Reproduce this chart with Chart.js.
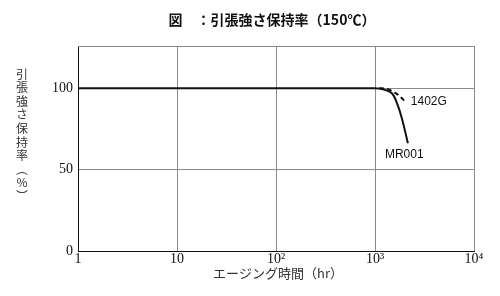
<!DOCTYPE html>
<html lang="ja">
<head>
<meta charset="UTF-8">
<title>引張強さ保持率</title>
<script src="https://cdn.jsdelivr.net/npm/chart.js"></script>
<style>
  html, body { margin: 0; padding: 0; background: #fff; }
  #wrap { width: 500px; height: 296px; }
</style>
</head>
<body>
<div id="wrap"><canvas id="myChart" width="500" height="296"></canvas></div>
<script>
// data
const xTicks = [1, 10, 100, 1000, 10000];
const xTickLabels = ['1', '10', '10²', '10³', '10⁴'];
const yTicks = [0, 50, 100];

const mrHours = [1, 1000, 1100, 1260, 1490, 1670, 1870, 2150];
const mrValues = [100, 100, 99.8, 99, 96.8, 90.7, 81.5, 66.2];

// dashed line only shows where it leaves the solid one
const gHours = [1100, 1300, 1520, 1750, 2000];
const gValues = [100, 99.7, 98, 95.5, 92];

const titleText = '図\u3000：引張強さ保持率（150℃）';
const yTitle = ['引', '張', '強', 'さ', '保', '持', '率', '︵', '%', '︶'];
const xTitle = 'エージング時間（hr）';

function pts(xs, ys) {
    return xs.map((x, i) => ({ x: x, y: ys[i] }));
}

const extras = {
    id: 'extras',
    afterDraw(chart) {
        const ctx = chart.ctx;
        const a = chart.chartArea;
        const xs = chart.scales.x, ys = chart.scales.y;
        ctx.save();
        // top frame in gray
        ctx.strokeStyle = '#8a8a8a';
        ctx.lineWidth = 1;
        ctx.beginPath();
        ctx.moveTo(a.left, a.top + 0.5);
        ctx.lineTo(a.right, a.top + 0.5);
        ctx.stroke();

        // title
        ctx.fillStyle = '#111';
        ctx.font = 'bold 14px "Noto Sans CJK JP"';
        ctx.textAlign = 'center';
        ctx.textBaseline = 'middle';
        ctx.fillText(titleText, 272, 20);

        // y title, vertical
        ctx.fillStyle = '#333';
        ctx.font = '12px "Noto Sans CJK JP"';
        yTitle.forEach((c, i) => {
            ctx.fillText(c, 22, 74 + i * 13.6);
        });

        // x title
        ctx.font = '13px "Noto Sans CJK JP"';
        ctx.fillText(xTitle, 278, 273);

        // series labels
        ctx.fillStyle = '#111';
        ctx.font = '12px "Liberation Sans Narrow", "Liberation Sans"';
        ctx.textAlign = 'left';
        const gEnd = gHours.length - 1;
        ctx.fillText('1402G', xs.getPixelForValue(gHours[gEnd]) + 6, ys.getPixelForValue(gValues[gEnd]));
        const mEnd = mrHours.length - 1;
        ctx.fillText('MR001', xs.getPixelForValue(mrHours[mEnd]) - 23, ys.getPixelForValue(mrValues[mEnd]) + 11);
        ctx.restore();
    }
};

const ctx = document.getElementById('myChart').getContext('2d');
const myChart = new Chart(ctx, {
    type: 'line',
    data: {
        datasets: [{
            label: 'MR001',
            data: pts(mrHours, mrValues),
            borderColor: '#111',
            borderWidth: 2,
            pointRadius: 0,
            tension: 0.4,
            fill: false
        }, {
            label: '1402G',
            data: pts(gHours, gValues),
            borderColor: '#111',
            borderWidth: 2,
            borderDash: [5, 3],
            pointRadius: 0,
            tension: 0.4,
            fill: false
        }]
    },
    options: {
        responsive: false,
        animation: false,
        layout: { padding: { top: 46, right: 26, left: 0, bottom: 0 } },
        plugins: {
            legend: { display: false },
            tooltip: { enabled: false }
        },
        scales: {
            x: {
                type: 'logarithmic',
                min: 1,
                max: 10000,
                afterBuildTicks: s => { s.ticks = xTicks.map(v => ({ value: v })); },
                afterFit: s => { s.height = 45; },
                ticks: {
                    callback: (v, i) => xTickLabels[i],
                    color: '#111',
                    font: { family: '"Liberation Serif"', size: 14 },
                    padding: 0,
                    maxRotation: 0,
                    autoSkip: false
                },
                grid: { color: '#8a8a8a', drawTicks: false },
                border: { color: '#111', width: 1 }
            },
            y: {
                min: 0,
                max: 126,
                afterBuildTicks: s => { s.ticks = yTicks.map(v => ({ value: v })); },
                afterFit: s => { s.width = 78; },
                ticks: {
                    color: '#111',
                    font: { family: '"Liberation Serif"', size: 14 },
                    padding: 5
                },
                grid: { color: '#8a8a8a', drawTicks: false },
                border: { color: '#111', width: 1 }
            }
        }
    },
    plugins: [extras]
});
</script>
</body>
</html>
